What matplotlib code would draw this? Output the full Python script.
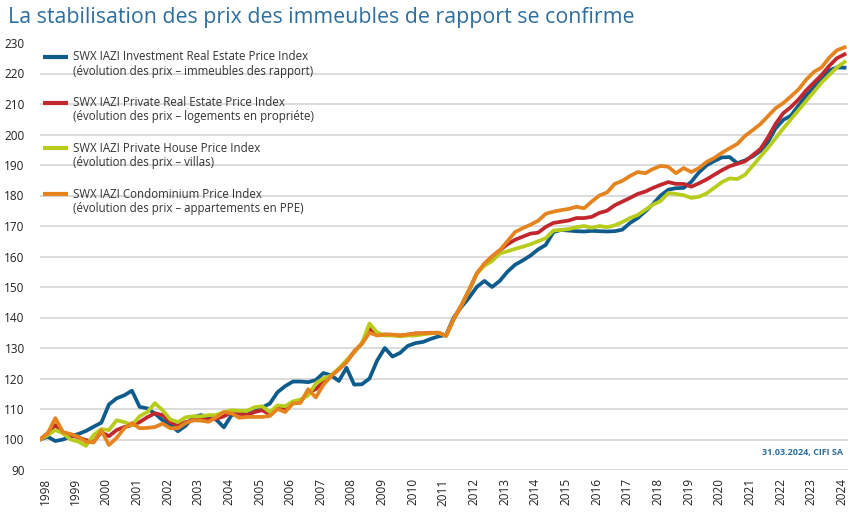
import numpy as np
import matplotlib
matplotlib.use("Agg")
import matplotlib.pyplot as plt
from matplotlib.lines import Line2D

plt.rcParams['font.family'] = ['Open Sans', 'DejaVu Sans']

# quarterly index values, 1998 Q1 = 100
start_year = 1998
years = list(range(1998, 2025))

investment = [
    100, 100.9, 99.5, 100, 101, 101.8, 102.8, 104.2,
    105.5, 111.5, 113.5, 114.5, 116, 110.7, 110.2, 108.5,
    106.3, 104.9, 102.7, 104.5, 107.3, 108, 107.3, 106.5,
    104, 108, 108.6, 108.2, 109.2, 110.5, 111.8, 115.5,
    117.5, 119, 119, 118.8, 119.5, 121.8, 121, 119.2,
    123.5, 118, 118.1, 120, 125.9, 130, 127.2, 128.4,
    130.7, 131.6, 132, 133, 133.8, 134.3, 140, 143.5,
    146.5, 150, 152, 150, 152, 155, 157.3, 158.7,
    160.3, 162.3, 163.8, 168, 168.7, 168.5, 168.3, 168.2,
    168.4, 168.3, 168.2, 168.3, 168.8, 171, 172.6, 174.8,
    177.2, 180, 181.9, 182.4, 182.5, 184.5, 187.6, 189.9,
    191.3, 192.5, 192.6, 190.6, 191.5, 192.8, 194.6, 197.5,
    202, 204.8, 206.2, 209.5, 212.8, 215.5, 218.4, 221,
    222, 221.9,
]

private_re = [
    100, 102, 104.7, 102.4, 101.4, 100.7, 99.8, 99.3,
    102.4, 101.1, 103.1, 104.1, 104.7, 105.7, 107.3, 108.6,
    108, 105.7, 104.7, 105.7, 106.3, 106.6, 106.6, 106.8,
    107.6, 109, 108.5, 108, 109, 109.6, 108.2, 110.3,
    110.3, 112, 112.5, 115.5, 116.5, 119, 121, 123,
    125.5, 128.6, 131.5, 136.5, 134.2, 134.4, 134.3, 134.1,
    134.4, 134.8, 134.8, 135, 135, 134, 139.5, 144,
    149, 154.4, 157.6, 160, 162, 164, 165.5, 166.5,
    167.5, 167.8, 169.7, 171, 171.4, 171.8, 172.6, 172.6,
    173, 174.3, 175, 176.8, 178, 179.2, 180.5, 181.3,
    182.5, 183.5, 184.4, 183.8, 183.8, 182.9, 184, 185.3,
    186.8, 188.3, 189.6, 190.4, 191.2, 193.2, 195.2, 199,
    203.5, 207, 209, 211.5, 214.5, 217, 219.5, 222.5,
    225, 226.3,
]

house = [
    100, 101.4, 103.1, 102, 100, 99.3, 97.9, 101.5,
    103.4, 103.1, 106.3, 105.7, 104.7, 107.6, 109, 111.9,
    109.6, 106.6, 105.7, 107.3, 107.6, 107.6, 108, 108,
    109, 109.6, 109.4, 109.4, 110.6, 110.9, 109, 111.2,
    110.9, 112.5, 113.1, 114.5, 118.4, 120, 121, 123.3,
    126, 128.6, 131.5, 138, 135.1, 134.1, 134.1, 133.8,
    134.1, 134.1, 134.5, 134.8, 135, 134, 139.5, 144,
    149, 154.4, 157, 158.5, 161, 161.7, 162.5, 163.2,
    164, 165, 166, 168.5, 168.7, 169, 169.6, 170,
    169.4, 170, 169.6, 170.2, 171.3, 172.6, 173.6, 175.3,
    177, 178.2, 180.8, 180.5, 180.1, 179.2, 179.6, 180.7,
    182.5, 184.4, 185.6, 185.4, 186.8, 189.7, 192.7, 195.6,
    198.8, 202, 205, 208, 211, 214, 217, 219.5,
    222, 223.8,
]

condo = [
    100, 102, 107, 102.4, 101.8, 100.9, 99.3, 99,
    103, 98.2, 100.5, 103.7, 105.4, 103.7, 103.8, 104.1,
    105.2, 103.7, 103.7, 105.4, 106.3, 106.2, 105.8, 107.3,
    109, 108.6, 107.1, 107.4, 107.4, 107.4, 107.7, 110,
    109, 111.8, 112, 116.5, 113.8, 118, 120.8, 123,
    125.3, 129, 131.3, 135, 134.1, 134.4, 134.4, 134.1,
    134.4, 134.7, 134.8, 134.9, 135, 134, 139.5, 144,
    149, 154.4, 157.6, 160, 162, 165, 168, 169.3,
    170.4, 171.7, 174, 174.7, 175.2, 175.6, 176.3, 175.8,
    178, 180, 181, 183.8, 184.8, 186.4, 187.7, 187.3,
    188.7, 189.7, 189.4, 187.3, 189, 187.7, 189, 191,
    192.3, 194, 195.5, 196.9, 199.5, 201.4, 203.4, 206,
    208.6, 210.3, 212.5, 214.8, 218, 220.5, 222, 225.2,
    227.6, 228.6,
]

series = [
    (investment, '#0f5c8c', 'SWX IAZI Investment Real Estate Price Index',
     '(évolution des prix – immeubles des rapport)'),
    (private_re, '#c1272d', 'SWX IAZI Private Real Estate Price Index',
     '(évolution des prix – logements en propriéte)'),
    (house, '#b8cc1c', 'SWX IAZI Private House Price Index',
     '(évolution des prix – villas)'),
    (condo, '#e5841f', 'SWX IAZI Condominium Price Index',
     '(évolution des prix – appartements en PPE)'),
]

W, H = 850, 518
fig = plt.figure(figsize=(W / 100, H / 100), dpi=100)
ax = fig.add_axes([40 / W, 1 - 470 / H, 808 / W, 427 / H])

t = start_year + np.arange(len(investment)) / 4
for vals, col, lab1, lab2 in series:
    ax.plot(t, vals, color=col, lw=2.7, solid_joinstyle='round', zorder=3)

ax.set_xlim(1998, 1998 + 808 / 30.65)
ax.set_ylim(90, 230)
yt = np.arange(90, 231, 10)
ax.set_yticks(yt)
for v in yt[:-1]:
    ax.axhline(v, color='#d9d9d9', lw=1.3, zorder=1)

ax.set_xticks(np.array(years) + 0.16)
ax.set_xticklabels([str(y) for y in years], rotation=90)
ax.tick_params(axis='both', length=0, labelsize=8.5, colors='#222222')
ax.tick_params(axis='y', pad=11)
ax.tick_params(axis='x', pad=6)
for s in ax.spines.values():
    s.set_visible(False)

# title
fig.text(8 / W, 1 - 17 / H, 'La stabilisation des prix des immeubles de rapport se confirme',
         fontsize=15.4, color='#2d6e9e', va='center', ha='left')

# legend, drawn by hand so the line sits next to the first text row
for k, (vals, col, lab1, lab2) in enumerate(series):
    y1 = 57 + k * 45.7
    fig.add_artist(Line2D([43 / W, 68 / W], [1 - y1 / H, 1 - y1 / H],
                          color=col, lw=3, solid_capstyle='butt'))
    fig.text(73 / W, 1 - y1 / H, lab1, fontsize=8.3, color='#333333', va='center')
    fig.text(73 / W, 1 - (y1 + 14) / H, lab2, fontsize=8.3, color='#333333', va='center')

fig.text(843 / W, 1 - 453 / H, '31.03.2024, CIFI SA', fontsize=6.5, fontweight='bold',
         color='#2d6e9e', ha='right', va='center')

fig.savefig('out.png', dpi=100, facecolor='white')
